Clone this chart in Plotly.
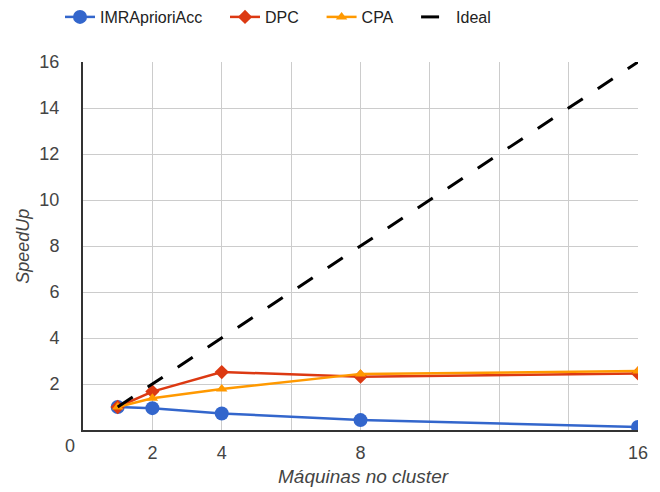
import plotly.graph_objects as go

machines = [1, 2, 4, 8, 16]
imr = [1.0, 0.95, 0.72, 0.43, 0.13]
dpc = [1.0, 1.67, 2.52, 2.32, 2.46]
cpa = [1.0, 1.38, 1.78, 2.44, 2.56]
ideal = [1, 2, 4, 8, 16]

x_tickvals = [0, 2, 4, 6, 8, 10, 12, 14, 16]
x_ticktext = ["", "2", "4", "", "8", "", "", "", "16"]
y_tickvals = [0, 2, 4, 6, 8, 10, 12, 14, 16]
y_ticktext = ["", "2", "4", "6", "8", "10", "12", "14", "16"]

FONT = "Arial, Liberation Sans, sans-serif"
TXT = "#444444"
PAD = "\u00a0" * 4

# plot area in pixels: left 83, right 645, top 62, bottom 430
PW, PH = 562, 368

fig = go.Figure()
fig.add_trace(go.Scatter(x=machines, y=imr, name="IMRAprioriAcc" + PAD, mode="lines+markers",
                         line=dict(color="#3366CC", width=2.5),
                         marker=dict(symbol="circle", size=14, color="#3366CC")))
fig.add_trace(go.Scatter(x=machines, y=dpc, name="DPC" + PAD, mode="lines+markers",
                         line=dict(color="#DC3912", width=2.5),
                         marker=dict(symbol="diamond", size=11, color="#DC3912")))
fig.add_trace(go.Scatter(x=machines, y=cpa, name="CPA" + PAD, mode="lines+markers",
                         line=dict(color="#FF9900", width=2.5),
                         marker=dict(symbol="triangle-up", size=10, color="#FF9900")))
fig.add_trace(go.Scatter(x=machines, y=ideal, name="Ideal", mode="lines",
                         line=dict(color="#000000", width=3, dash="18px,18px")))

fig.update_layout(
    width=660, height=492,
    margin=dict(l=83, r=15, t=62, b=62),
    paper_bgcolor="white", plot_bgcolor="white",
    font=dict(family=FONT, size=18, color=TXT),
    showlegend=True,
    legend=dict(orientation="h", xref="container", yref="container",
                x=60 / 660, xanchor="left", y=1 - 17 / 492, yanchor="middle",
                font=dict(size=16, color="#222222"), bgcolor="rgba(0,0,0,0)",
                itemwidth=30),
    xaxis=dict(range=[0, 16], tickmode="array", tickvals=x_tickvals, ticktext=x_ticktext,
               showgrid=True, gridcolor="#cccccc", gridwidth=1,
               zeroline=False, showline=True, linecolor="#333333", linewidth=2,
               ticks="", ticklabelstandoff=5, tickfont=dict(size=18, color=TXT)),
    yaxis=dict(range=[0, 16], tickmode="array", tickvals=y_tickvals, ticktext=y_ticktext,
               showgrid=True, gridcolor="#cccccc", gridwidth=1,
               zeroline=False, showline=True, linecolor="#333333", linewidth=2,
               ticks="", ticklabelstandoff=18, tickfont=dict(size=18, color=TXT)),
    annotations=[
        dict(text="0", x=(70 - 83) / PW, y=(430 - 446) / PH, xref="paper", yref="paper",
             showarrow=False, font=dict(size=18, color=TXT), xanchor="center", yanchor="middle"),
        dict(text="<i>SpeedUp</i>", x=(22 - 83) / PW, y=0.5, xref="paper", yref="paper",
             showarrow=False, textangle=-90, font=dict(size=18, color=TXT),
             xanchor="center", yanchor="middle"),
        dict(text="<i>Máquinas no cluster</i>", x=(367 - 83) / PW, y=(430 - 476) / PH,
             xref="paper", yref="paper", showarrow=False, font=dict(size=19, color=TXT),
             xanchor="center", yanchor="middle"),
    ],
)

fig.write_html("out.html")
